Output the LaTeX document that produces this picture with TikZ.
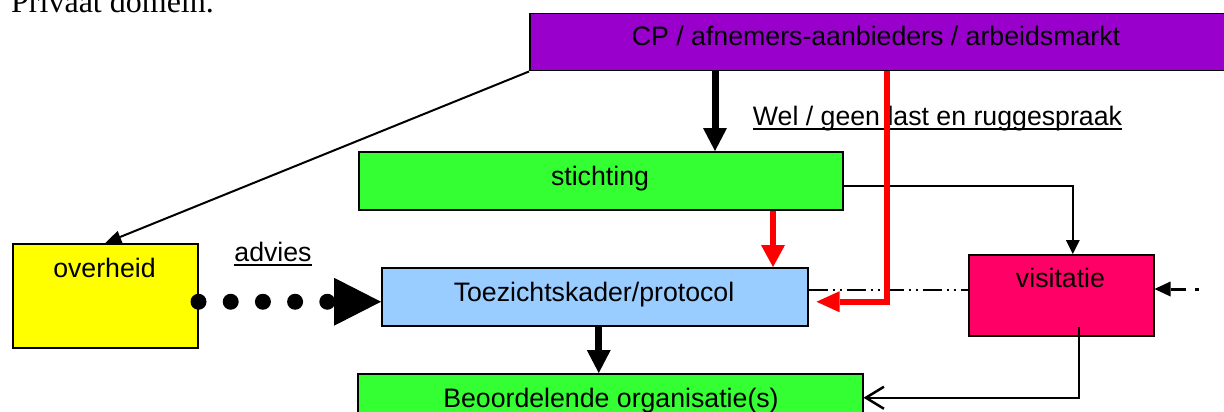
\documentclass[tikz,border=0pt]{standalone}
\usepackage{fontspec}
\setmainfont{Liberation Sans}
\newfontfamily\serifface{Liberation Serif}
\usetikzlibrary{arrows.meta}
\definecolor{cppurple}{RGB}{153,0,204}
\definecolor{boxgreen}{RGB}{51,255,51}
\definecolor{boxyellow}{RGB}{255,255,0}
\definecolor{boxblue}{RGB}{153,204,255}
\definecolor{boxpink}{RGB}{255,0,102}
\definecolor{arrowred}{RGB}{255,0,0}
\begin{document}
\begin{tikzpicture}[x=1pt,y=-1pt,
  box/.style={draw=black, line width=1.5pt, rectangle, anchor=north west, inner sep=0pt},
  lbl/.style={anchor=base, inner sep=0pt, font=\fontsize{26.7}{32}\selectfont},
  thickarrow/.style={line width=7pt, -{Triangle[length=23pt,width=24pt,line width=0pt]}},
  redarrow/.style={draw=arrowred, line width=6pt, -{Triangle[length=22pt,width=24pt,line width=0pt]}},
  redarrowh/.style={draw=arrowred, line width=6pt, -{Triangle[length=23pt,width=21pt,line width=0pt]}},
  thinarrow/.style={line width=2pt, -{Triangle[length=16pt,width=13pt,line width=0pt]}},
  thinarrowb/.style={line width=2pt, -{Triangle[length=14pt,width=14pt,line width=0pt]}},
  dashedarrow/.style={line width=3pt, dash pattern=on 4pt off 9pt on 60pt, -{Triangle[length=16pt,width=15pt,line width=0pt]}},
  openarrow/.style={line width=2.5pt, -{Straight Barb[length=18pt,width=22pt]}},
  dashdotline/.style={line width=2pt, dash pattern=on 19pt off 5pt on 2pt off 5pt on 2pt off 5pt},
  dotsarrow/.style={line width=16pt, line cap=round, dash pattern=on 0pt off 32.2pt, -{Triangle[length=47pt,width=48pt,line width=0pt]}},
  ]
\useasboundingbox (0,0) rectangle (1224,412);
\fill[white] (0,0) rectangle (1224,412);

% title
\node[anchor=base west, inner sep=0pt, font=\serifface\fontsize{32}{38}\selectfont] (title) at (11,13) {Privaat domein.};

% boxes
\node[box, fill=cppurple, minimum width=703pt, minimum height=57pt] (cp) at (529,13) {};
\node[box, fill=boxgreen, minimum width=484pt, minimum height=58pt] (stich) at (358,151) {};
\node[box, fill=boxyellow, minimum width=185pt, minimum height=104pt] (overh) at (12,243) {};
\node[box, fill=boxblue, minimum width=426pt, minimum height=58pt] (toez) at (381,267) {};
\node[box, fill=boxpink, minimum width=185pt, minimum height=81pt] (visit) at (968,254) {};
\node[box, fill=boxgreen, minimum width=505pt, minimum height=60pt] (beoord) at (357,373) {};

% box texts
\node[lbl] (cpt) at (876,46) {CP / afnemers-aanbieders / arbeidsmarkt};
\node[lbl] (stt) at (600,185) {stichting};
\node[lbl] (ovt) at (104.5,277) {overheid};
\node[lbl] (tzt) at (594,301) {Toezichtskader/protocol};
\node[lbl] (vit) at (1060.5,287) {visitatie};
\node[lbl] (bet) at (611,407) {Beoordelende organisatie(s)};

% free labels
\node[lbl] (wel) at (937.5,125) {Wel / geen last en ruggespraak};
\draw[line width=2pt] ([yshift=-4pt]wel.base west) -- ([yshift=-4pt]wel.base east);
\node[lbl] (adv) at (273,261) {advies};
\draw[line width=2pt] ([yshift=-4pt]adv.base west) -- ([yshift=-4pt]adv.base east);

% connectors
\draw[thinarrow] (cp.south west) -- (overh.north);

\coordinate (cpa) at ([xshift=186pt]cp.south west);
\draw[thickarrow] (cpa) -- (cpa |- stich.north);

\draw[thinarrowb] ([yshift=-5pt]stich.east) -| ([xshift=11.5pt]visit.north);

\coordinate (tze) at ([yshift=7pt]toez.east);
\draw[dashdotline] (tze) -- (tze -| visit.west);

\coordinate (str) at ([xshift=415pt]stich.south west);
\draw[redarrow] (str) -- (str |- toez.north);

\coordinate (cpr) at ([xshift=358pt]cp.south west);
\draw[redarrowh] (cpr) |- ([xshift=8pt,yshift=-5pt]toez.east);

\coordinate (rin) at (1199,289);
\draw[dashedarrow] (rin) -- (rin -| visit.east);

\coordinate (vso) at ([xshift=17.5pt,yshift=10pt]visit.south);
\draw[openarrow] (vso) |- ([yshift=6pt]beoord.east);

\coordinate (tzs) at ([xshift=4pt]toez.south);
\draw[thickarrow] (tzs) -- (tzs |- beoord.north);

\coordinate (ove) at ([yshift=-6pt]overh.east);
\draw[dotsarrow] (ove) -- (ove -| toez.west);
\end{tikzpicture}
\end{document}
